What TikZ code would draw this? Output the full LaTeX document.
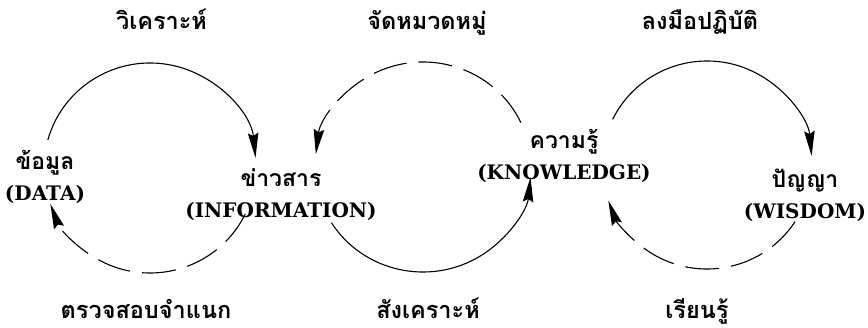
\documentclass[tikz,border=0pt]{standalone}
\usepackage{fontspec}
\newfontfamily\thaifont[Script=Thai]{Loma}
\newfontfamily\enfont{DejaVu Serif}
\usetikzlibrary{arrows.meta,calc}
\tikzset{
  thailabel/.style={inner sep=0pt,anchor=base,font=\thaifont\bfseries\fontsize{23.5}{28}\selectfont},
  concept/.style={inner sep=0pt,align=center,font=\fontsize{20}{31}\selectfont},
  solidarc/.style={line width=1.1pt,-{Stealth[length=25pt,width=10.5pt,inset=3pt]}},
  dasharc/.style={line width=1.1pt,dash pattern=on 34pt off 12pt,-{Stealth[length=25pt,width=10.5pt,inset=3pt]}},
}
\newcommand{\thtxt}[1]{{\thaifont\bfseries\fontsize{23}{31}\selectfont #1}}
\newcommand{\entxt}[1]{{\enfont\bfseries\fontsize{20}{31}\selectfont #1}}
\begin{document}
\begin{tikzpicture}[x=1pt,y=1pt]
\useasboundingbox (0,0) rectangle (868,327);
% centres of the three cycles
\coordinate (c1) at (150,159);
\coordinate (c2) at (423,160);
\coordinate (c3) at (707,162);
% concepts
\node[concept] (data) at (45,150) {\thtxt{ข้อมูล}\\\entxt{(DATA)}};
\node[concept] (info) at (281,132) {\thtxt{ข่าวสาร}\\\entxt{(INFORMATION)}};
\node[concept] (know) at (564,171) {\thtxt{ความรู้}\\\entxt{(KNOWLEDGE)}};
\node[concept] (wisd) at (805,132) {\thtxt{ปัญญา}\\\entxt{(WISDOM)}};
% process labels
\node[thailabel] (l1) at (161.5,297) {วิเคราะห์};
\node[thailabel] (l2) at (427,297) {จัดหมวดหมู่};
\node[thailabel] (l3) at (700,297) {ลงมือปฏิบัติ};
\node[thailabel] (l4) at (146,9) {ตรวจสอบจำแนก};
\node[thailabel] (l5) at (428,9) {สังเคราะห์};
\node[thailabel] (l6) at (697,9) {เรียนรู้};
% arc start points
\coordinate (s1) at ($(c1)+(164.5:106 and 105)$);
\coordinate (d1) at ($(c1)+(-26:106 and 105)$);
\coordinate (d2) at ($(c2)+(25:108 and 105)$);
\coordinate (s2) at ($(c2)+(212:108 and 105)$);
\coordinate (s3) at ($(c3)+(154:105 and 104)$);
\coordinate (d3) at ($(c3)+(-33:105 and 104)$);
% cycle 1: data -> information (solid), information -> data (dashed)
\draw[solidarc] (s1) arc[start angle=164.5,end angle=5.5,x radius=106,y radius=105];
\draw[dasharc] (d1) arc[start angle=-26,end angle=-160,x radius=106,y radius=105];
% cycle 2
\draw[dasharc] (d2) arc[start angle=25,end angle=173,x radius=108,y radius=105];
\draw[solidarc] (s2) arc[start angle=212,end angle=354.5,x radius=108,y radius=105];
% cycle 3
\draw[solidarc] (s3) arc[start angle=154,end angle=5,x radius=105,y radius=104];
\draw[dasharc] (d3) arc[start angle=-33,end angle=-160,x radius=105,y radius=104];
\end{tikzpicture}
\end{document}
